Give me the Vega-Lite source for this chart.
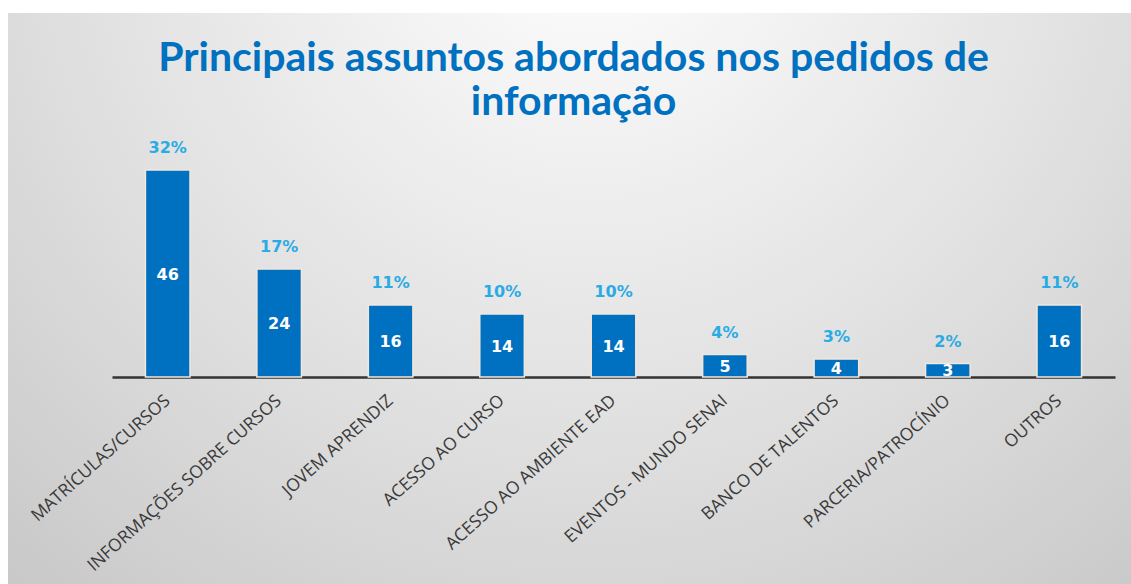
{
  "$schema": "https://vega.github.io/schema/vega-lite/v6.json",
  "autosize": {"type": "none"},
  "width": 1123,
  "height": 571,
  "padding": {"left": 8, "top": 13, "right": 0, "bottom": 0},
  "background": "#ffffff",
  "view": {
    "stroke": null,
    "fill": {
      "gradient": "radial",
      "x1": 0.52, "y1": 0.15, "r1": 0,
      "x2": 0.52, "y2": 0.15, "r2": 0.8,
      "stops": [
        {"offset": 0, "color": "#ffffff"},
        {"offset": 0.55, "color": "#e2e2e2"},
        {"offset": 1, "color": "#c8c8c8"}
      ]
    }
  },
  "title": {
    "text": ["Principais assuntos abordados nos pedidos de", "informação"],
    "anchor": "middle",
    "frame": "group",
    "dx": 4,
    "offset": -111,
    "font": "Lato",
    "fontSize": 41,
    "fontWeight": "bold",
    "color": "#0070C0",
    "lineHeight": 44
  },
  "data": {
    "values": [
      {"assunto": "MATRÍCULAS/CURSOS", "valor": 46, "pct": "32%"},
      {"assunto": "INFORMAÇÕES SOBRE CURSOS", "valor": 24, "pct": "17%"},
      {"assunto": "JOVEM APRENDIZ", "valor": 16, "pct": "11%"},
      {"assunto": "ACESSO AO CURSO", "valor": 14, "pct": "10%"},
      {"assunto": "ACESSO AO AMBIENTE EAD", "valor": 14, "pct": "10%"},
      {"assunto": "EVENTOS - MUNDO SENAI", "valor": 5, "pct": "4%"},
      {"assunto": "BANCO DE TALENTOS", "valor": 4, "pct": "3%"},
      {"assunto": "PARCERIA/PATROCÍNIO", "valor": 3, "pct": "2%"},
      {"assunto": "OUTROS", "valor": 16, "pct": "11%"}
    ]
  },
  "encoding": {
    "x": {
      "field": "assunto",
      "type": "nominal",
      "sort": null,
      "scale": {"range": [104, 1107], "paddingInner": 0.6, "paddingOuter": 0.3},
      "axis": {
        "title": null,
        "offset": -207,
        "labelAngle": -42,
        "labelAlign": "right",
        "labelBaseline": "middle",
        "labelPadding": 21,
        "labelFont": "Open Sans",
        "labelFontSize": 17.5,
        "labelColor": "#3a3a3a",
        "labelLimit": 400,
        "ticks": false,
        "domainColor": "#333333",
        "domainWidth": 2.5,
        "grid": false
      }
    }
  },
  "layer": [
    {
      "mark": {"type": "bar", "color": "#0070C0", "stroke": "#f3e6da", "strokeWidth": 1.5},
      "encoding": {
        "y": {
          "field": "valor",
          "type": "quantitative",
          "scale": {"domain": [0, 46], "range": [364, 157], "nice": false, "zero": true},
          "axis": null
        }
      }
    },
    {
      "mark": {"type": "text", "dy": -22, "baseline": "middle", "font": "DejaVu Sans", "fontSize": 16, "fontWeight": "bold", "color": "#2AABE4"},
      "encoding": {
        "y": {
          "field": "valor",
          "type": "quantitative",
          "scale": {"domain": [0, 46], "range": [364, 157], "nice": false, "zero": true},
          "axis": null
        },
        "text": {"field": "pct", "type": "nominal"}
      }
    },
    {
      "mark": {"type": "text", "baseline": "middle", "font": "DejaVu Sans", "fontSize": 16, "fontWeight": "bold", "color": "#ffffff", "dy": 1},
      "encoding": {
        "y": {
          "field": "valor",
          "type": "quantitative",
          "scale": {"domain": [0, 46], "range": [364, 260.5], "nice": false, "zero": true},
          "axis": null
        },
        "text": {"field": "valor", "type": "quantitative"}
      }
    }
  ],
  "resolve": {"scale": {"y": "independent"}}
}
